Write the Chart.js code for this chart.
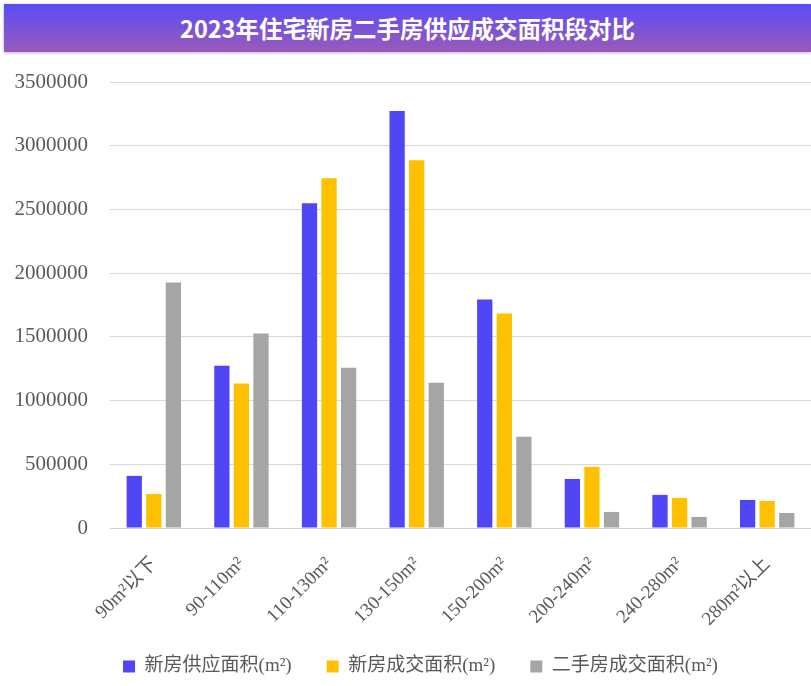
<!DOCTYPE html>
<html>
<head>
<meta charset="utf-8">
<script src="https://cdn.jsdelivr.net/npm/chart.js@4"></script>
<style>
  html, body { margin: 0; padding: 0; background: #fff; }
  body { width: 811px; height: 686px; position: relative; overflow: hidden; }
  #banner {
    position: absolute; left: 4px; top: 4px; width: 807px; height: 48px;
    background: linear-gradient(to bottom, #5a4cf6, #9a5ab9);
    box-shadow: 0 1px 3px rgba(120, 90, 200, 0.5);
    color: #fff; text-align: center; line-height: 48px;
    font-family: "Noto Sans CJK SC", sans-serif; font-weight: 700; font-size: 23.5px;
  }
  #wrap { position: absolute; left: 0; top: 60px; width: 811px; height: 626px; }
</style>
</head>
<body>
<div id="banner">2023年住宅新房二手房供应成交面积段对比</div>
<div id="wrap"><canvas id="chart"></canvas></div>
<script>
// 面积段
const categories = ['90m²以下', '90-110m²', '110-130m²', '130-150m²', '150-200m²', '200-240m²', '240-280m²', '280m²以上'];
const newSupply = [409000, 1274000, 2548000, 3272000, 1793000, 385000, 260000, 220000];
const newDeal = [267000, 1133000, 2745000, 2886000, 1683000, 480000, 236000, 212000];
const usedDeal = [1927000, 1526000, 1258000, 1140000, 716000, 126000, 87000, 118000];
const seriesNames = ['新房供应面积(m²)', '新房成交面积(m²)', '二手房成交面积(m²)'];
const seriesColors = ['#5046f6', '#ffc000', '#a5a5a5'];
const yTicks = [0, 500000, 1000000, 1500000, 2000000, 2500000, 3000000, 3500000];

const labelFont = '"Liberation Serif", "Noto Sans CJK SC", serif';

// 軸ラベルを軸ボックスで切り取らない
const noLabelClip = axis => { axis._computeLabelArea = () => undefined; };

const ctx = document.getElementById('chart').getContext('2d');
new Chart(ctx, {
    type: 'bar',
    data: {
        labels: categories,
        datasets: [newSupply, newDeal, usedDeal].map((d, i) => ({
            label: seriesNames[i],
            data: d,
            backgroundColor: seriesColors[i],
            borderWidth: 0,
            categoryPercentage: 0.67,
            barPercentage: 0.78
        }))
    },
    options: {
        responsive: true,
        maintainAspectRatio: false,
        animation: false,
        layout: { padding: { left: 30, right: 0, top: 22, bottom: 0 } },
        plugins: {
            legend: {
                position: 'bottom',
                labels: {
                    boxWidth: 12,
                    boxHeight: 12,
                    padding: 35,
                    color: '#595959',
                    font: { family: labelFont, size: 19 }
                }
            },
            title: { display: false },
            tooltip: { enabled: false }
        },
        scales: {
            x: {
                afterFit: axis => { axis.height = 94; noLabelClip(axis); },
                grid: { display: false, drawTicks: false },
                border: { display: true, color: '#d0d0d0', width: 1 },
                ticks: {
                    minRotation: 45,
                    maxRotation: 45,
                    padding: 25,
                    color: '#595959',
                    font: { family: labelFont, size: 19 }
                }
            },
            y: {
                min: 0,
                max: 3500000,
                afterFit: axis => { axis.width = 80; noLabelClip(axis); },
                afterBuildTicks: axis => { axis.ticks = yTicks.map(v => ({ value: v })); },
                grid: { color: '#d9d9d9', drawTicks: true, tickLength: 22, tickColor: 'rgba(0,0,0,0)' },
                border: { display: false },
                ticks: {
                    padding: 0,
                    color: '#595959',
                    font: { family: labelFont, size: 21 },
                    callback: v => String(v)
                }
            }
        }
    }
});
</script>
</body>
</html>
